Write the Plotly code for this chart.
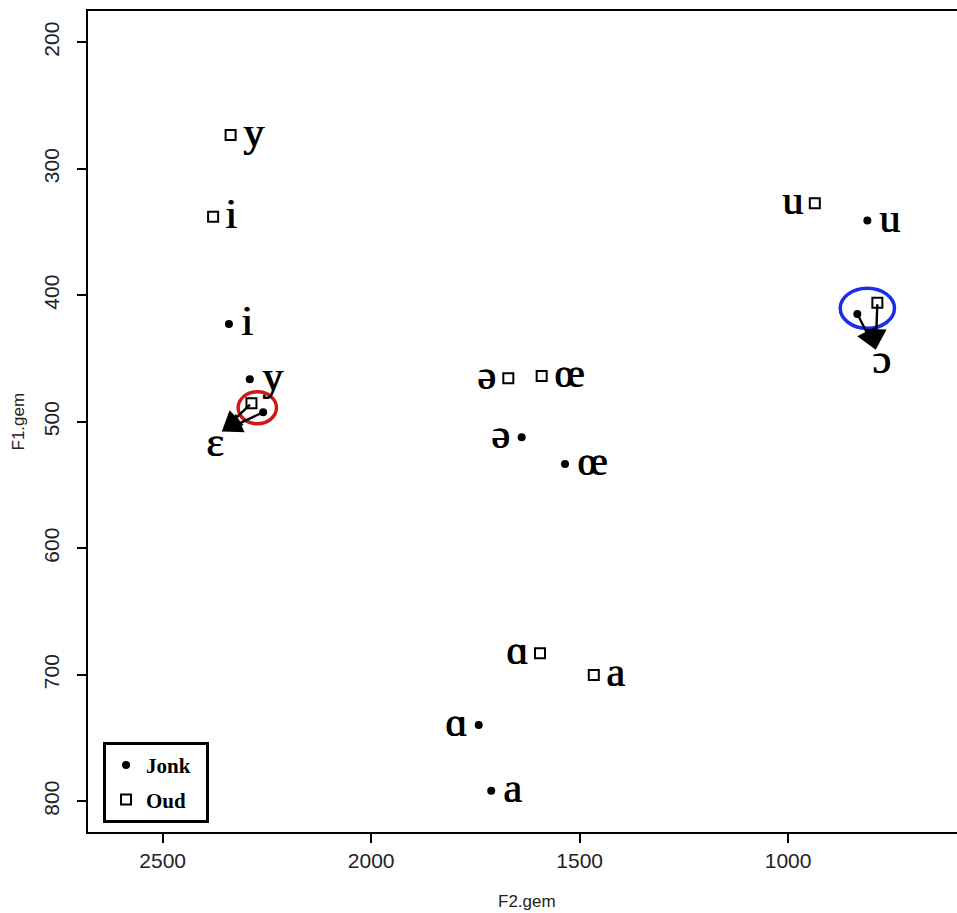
import plotly.graph_objects as go

# ---- data (F2 = x, F1 = y) ----
jonk_labels = ["i", "y", "ə", "œ", "ɑ", "a", "u", "ɛ", "ɔ"]
jonk_f2 = [2341, 2291, 1639, 1535, 1742, 1712, 810, 2259, 834]
jonk_f1 = [422.7, 466.4, 512.3, 533.4, 739.7, 791.6, 341, 492.5, 414.8]

oud_labels = ["y", "i", "ə", "œ", "ɑ", "a", "u", "ɛ", "ɔ"]
oud_f2 = [2337, 2379, 1671, 1591, 1595, 1466, 936, 2287, 786]
oud_f1 = [273.3, 337.9, 465.6, 463.8, 683, 700.2, 327.3, 485.4, 405.9]

# vowels whose labels are shown at a shift target
target_labels = ["ɛ", "ɔ"]
target_f2 = [2375, 776]
target_f1 = [518.3, 452.5]
arrow_tip_f2 = [2358, 790]
arrow_tip_f1 = [507.8, 443]

x_ticks = [2500, 2000, 1500, 1000]
y_ticks = [200, 300, 400, 500, 600, 700, 800]

# ---- styles ----
jonk_side = ["r", "r", "l", "r", "l", "r", "r", None, None]
oud_side = ["r", "r", "l", "r", "l", "r", "l", None, None]
circle_colors = {"ɛ": "#d01818", "ɔ": "#1a2ee8"}
circle_r = {"ɛ": (46, 12.6), "ɔ": (65, 15.8)}
LABEL_FONT = dict(family="Liberation Serif, DejaVu Serif, serif", size=42, color="black",
                  shadow="0.9px 0 0 black")
AXIS_FONT = "Liberation Sans, Arial, sans-serif"

fig = go.Figure()
fig.add_trace(go.Scatter(x=jonk_f2, y=jonk_f1, mode="markers",
                         name="<b>Jonk</b>\u00a0\u00a0", legendgroup="j",
                         marker=dict(symbol="circle", size=8, color="black")))
fig.add_trace(go.Scatter(x=oud_f2, y=oud_f1, mode="markers",
                         name="<b>Oud</b>", legendgroup="o",
                         marker=dict(symbol="square-open", size=10, color="black",
                                     line=dict(width=2, color="black"))))

annotations = []
for labels, xs, ys, sides in [(jonk_labels, jonk_f2, jonk_f1, jonk_side),
                              (oud_labels, oud_f2, oud_f1, oud_side)]:
    for lab, x, y, s in zip(labels, xs, ys, sides):
        if s is None:
            continue
        annotations.append(dict(x=x, y=y, xref="x", yref="y", text=lab, showarrow=False,
                                xanchor="left" if s == "r" else "right",
                                xshift=10 if s == "r" else -10, yshift=3,
                                font=LABEL_FONT))

for lab, tx, ty, ax_, ay_ in zip(target_labels, target_f2, target_f1, arrow_tip_f2, arrow_tip_f1):
    annotations.append(dict(x=tx, y=ty, xref="x", yref="y", text=lab, showarrow=False,
                            xanchor="center", yanchor="middle", yshift=3, font=LABEL_FONT))
    j = jonk_labels.index(lab)
    o = oud_labels.index(lab)
    for sx, sy in [(oud_f2[o], oud_f1[o]), (jonk_f2[j], jonk_f1[j])]:
        annotations.append(dict(x=ax_, y=ay_, xref="x", yref="y", ax=sx, ay=sy,
                                axref="x", ayref="y", text="", showarrow=True,
                                arrowhead=2, arrowsize=1.7, arrowwidth=2.4,
                                arrowcolor="black", standoff=0, startstandoff=0))
    cx = (jonk_f2[j] + oud_f2[o]) / 2
    cy = (jonk_f1[j] + oud_f1[o]) / 2
    rx, ry = circle_r[lab]
    fig.add_shape(type="circle", xref="x", yref="y", x0=cx - rx, x1=cx + rx,
                  y0=cy - ry, y1=cy + ry, line=dict(color=circle_colors[lab], width=3.5))

annotations.append(dict(text="F2.gem", x=0.505, y=-(902 - 832) / 821, xref="paper", yref="paper",
                        xanchor="center", yanchor="middle", showarrow=False,
                        font=dict(family=AXIS_FONT, size=17, color="#222")))
annotations.append(dict(text="F1.gem", x=-(88 - 18) / 869, y=0.5, xref="paper", yref="paper",
                        xanchor="center", yanchor="middle", textangle=-90, showarrow=False,
                        font=dict(family=AXIS_FONT, size=17, color="#222")))

fig.update_layout(
    width=957, height=913,
    margin=dict(l=88, r=0, t=11, b=81, autoexpand=False),
    paper_bgcolor="white", plot_bgcolor="white",
    showlegend=True,
    legend=dict(x=0.0173, y=0.011, xanchor="left", yanchor="bottom",
                bgcolor="white", bordercolor="black", borderwidth=3,
                font=dict(family="Liberation Serif, serif", size=21, color="black"),
                traceorder="grouped", tracegroupgap=4, itemwidth=30),
    annotations=annotations,
    xaxis=dict(range=[2679, 595], tickvals=x_ticks, ticktext=[str(v) for v in x_ticks],
               showgrid=False, zeroline=False, showline=True, linecolor="black", linewidth=2,
               mirror=True, ticks="outside", ticklen=9, tickwidth=2, tickcolor="black",
               tickfont=dict(family=AXIS_FONT, size=21, color="#222")),
    yaxis=dict(range=[824.3, 175.3], tickvals=y_ticks, ticktext=[str(v) for v in y_ticks],
               showgrid=False, zeroline=False, showline=True, linecolor="black", linewidth=2,
               mirror=False, ticks="outside", ticklen=9, tickwidth=2, tickcolor="black",
               tickangle=-90, ticklabelstandoff=10,
               tickfont=dict(family=AXIS_FONT, size=21, color="#222")),
)

fig.write_html("out.html", config={"displayModeBar": False},
               post_script="document.body.style.margin='0';document.body.style.overflow='hidden';")
